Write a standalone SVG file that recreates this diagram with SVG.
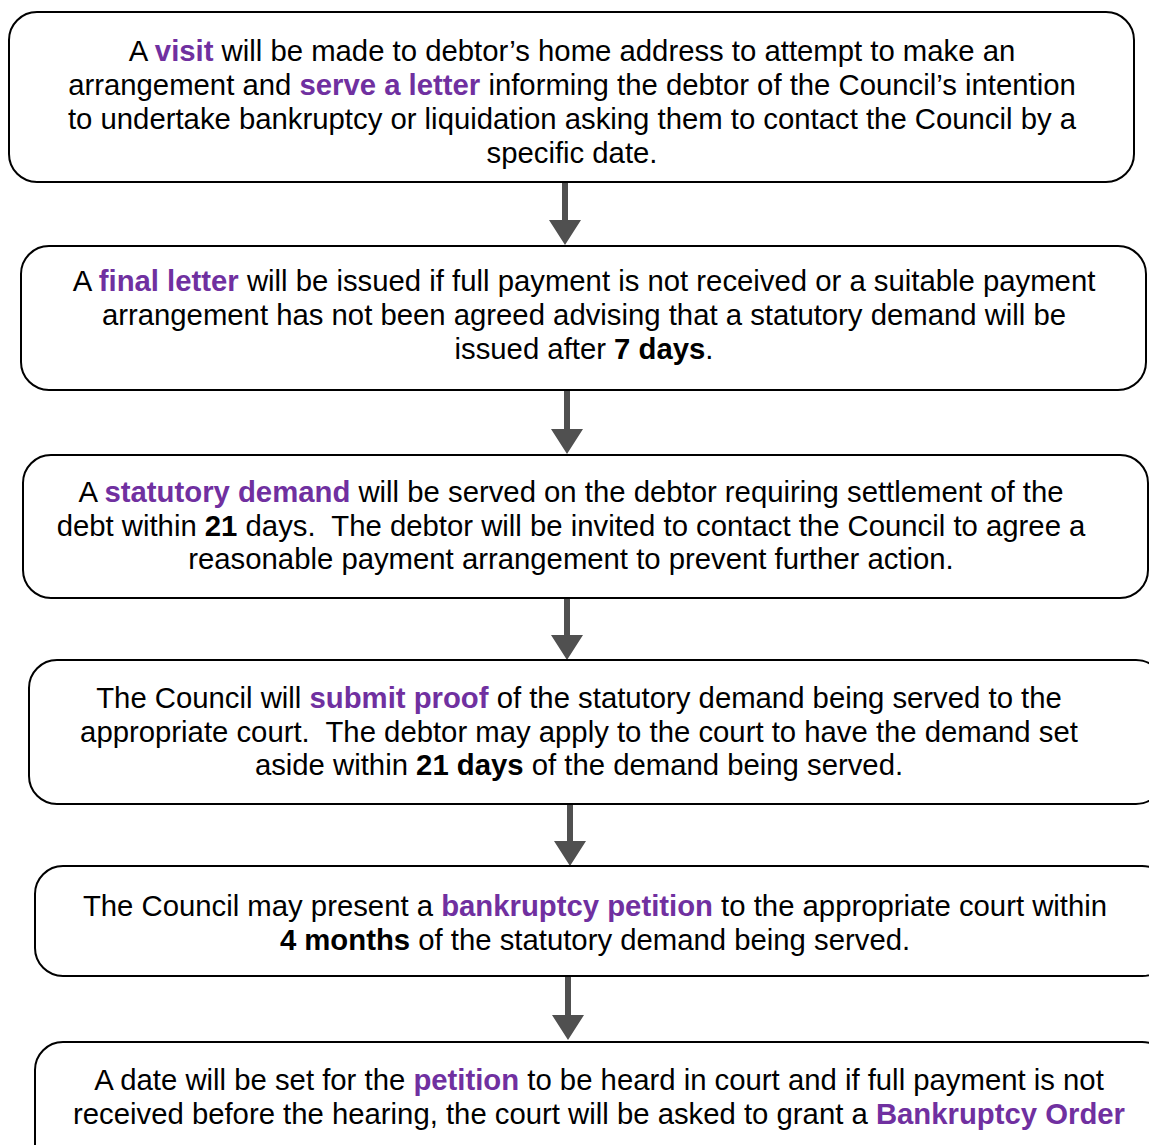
<svg xmlns="http://www.w3.org/2000/svg" width="1149" height="1145" viewBox="0 0 1149 1145">
<style>
.box{fill:#fff;stroke:#000;stroke-width:2}
text{font-family:"Liberation Sans",Arial,sans-serif;font-size:29.3px;fill:#000;text-anchor:middle}
.p{fill:#7030A0;font-weight:bold}
.b{font-weight:bold}
.arr{fill:#505050}
</style>
<rect width="1149" height="1145" fill="#fff"/>
<g id="connectors">
<path class="arr" d="M562 183h6v37h13l-16 25l-16-25h13z"/>
<path class="arr" d="M564 391h6v38h13l-16 25l-16-25h13z"/>
<path class="arr" d="M564 599h6v36h13l-16 25l-16-25h13z"/>
<path class="arr" d="M567 805h6v36h13l-16 25l-16-25h13z"/>
<path class="arr" d="M565 977h6v38h13l-16 25l-16-25h13z"/>
</g>
<g id="node1">
<rect class="box" x="9" y="12" width="1125" height="170" rx="28"/>
<text x="572" y="61">A <tspan class="p">visit</tspan> will be made to debtor’s home address to attempt to make an</text>
<text x="572" y="95">arrangement and <tspan class="p">serve a letter</tspan> informing the debtor of the Council’s intention</text>
<text x="572" y="129">to undertake bankruptcy or liquidation asking them to contact the Council by a</text>
<text x="572" y="163">specific date.</text>
</g>
<g id="node2">
<rect class="box" x="21" y="246" width="1125" height="144" rx="28"/>
<text x="584" y="291">A <tspan class="p">final letter</tspan> will be issued if full payment is not received or a suitable payment</text>
<text x="584" y="325">arrangement has not been agreed advising that a statutory demand will be</text>
<text x="584" y="359">issued after <tspan class="b">7 days</tspan>.</text>
</g>
<g id="node3">
<rect class="box" x="23" y="455" width="1125" height="143" rx="28"/>
<text x="571" y="502">A <tspan class="p">statutory demand</tspan> will be served on the debtor requiring settlement of the</text>
<text x="571" y="536" xml:space="preserve">debt within <tspan class="b">21</tspan> days.  The debtor will be invited to contact the Council to agree a</text>
<text x="571" y="569">reasonable payment arrangement to prevent further action.</text>
</g>
<g id="node4">
<rect class="box" x="29" y="660" width="1135" height="144" rx="28"/>
<text x="579" y="708">The Council will <tspan class="p">submit proof</tspan> of the statutory demand being served to the</text>
<text x="579" y="742" xml:space="preserve">appropriate court.  The debtor may apply to the court to have the demand set</text>
<text x="579" y="775">aside within <tspan class="b">21 days</tspan> of the demand being served.</text>
</g>
<g id="node5">
<rect class="box" x="35" y="866" width="1135" height="110" rx="28"/>
<text x="595" y="916">The Council may present a <tspan class="p">bankruptcy petition</tspan> to the appropriate court within</text>
<text x="595" y="950"><tspan class="b">4 months</tspan> of the statutory demand being served.</text>
</g>
<g id="node6">
<rect class="box" x="35" y="1042" width="1135" height="150" rx="28"/>
<text x="599" y="1090">A date will be set for the <tspan class="p">petition</tspan> to be heard in court and if full payment is not</text>
<text x="599" y="1124">received before the hearing, the court will be asked to grant a <tspan class="p">Bankruptcy Order</tspan></text>
</g>
</svg>
